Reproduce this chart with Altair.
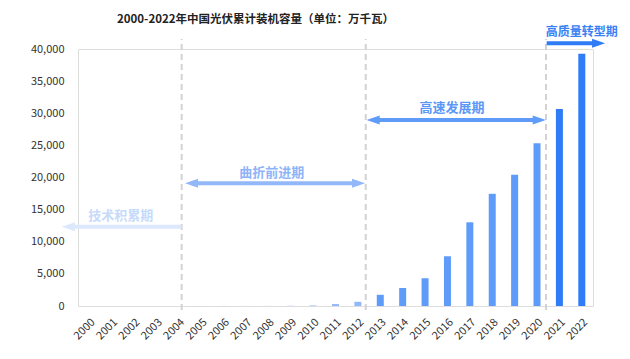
import altair as alt
import pandas as pd

FONT = "Noto Sans CJK SC"

# ---- data -------------------------------------------------------------
years = ["2000", "2001", "2002", "2003", "2004", "2005", "2006", "2007",
         "2008", "2009", "2010", "2011", "2012", "2013", "2014", "2015",
         "2016", "2017", "2018", "2019", "2020", "2021", "2022"]
capacity = [1.9, 2.4, 4.2, 5.5, 6.5, 7, 8, 10, 14, 30, 86, 300, 650,
            1745, 2805, 4318, 7742, 13025, 17463, 20430, 25343, 30656, 39261]
year_stage = (["技术积累期"] * 5 + ["曲折前进期"] * 8 +
              ["高速发展期"] * 8 + ["高质量转型期"] * 2)

stage_names = ["技术积累期", "曲折前进期", "高速发展期", "高质量转型期"]
stage_colors = ["#dce8fc", "#92b8f9", "#5f9bf8", "#2f7cf6"]
stage_text_colors = ["#c6dafb", "#8db4f8", "#5b97f7", "#3a80f5"]
stage_font_sizes = [13, 13, 13, 12]

# stage arrows, in year units on the x axis and capacity units on the y axis
arrow_start = [1998.78, 2004.28, 2012.39, 2020.43]
arrow_end = [2004.13, 2012.32, 2020.39, 2023.04]
arrow_level = [12340, 19100, 28950, 40890]
head_at_start = [True, True, True, False]
head_at_end = [False, True, True, True]
label_x = [2001.41, 2008.15, 2016.2, 2022.0]
label_level = [14010, 20650, 30750, 42600]

# dashed dividers between stages
divider_x = [2004.13, 2012.35, 2020.4]
divider_low, divider_high = -620, 41560

y_ticks = [0, 5000, 10000, 15000, 20000, 25000, 30000, 35000, 40000]

# ---- tables -----------------------------------------------------------
bars = pd.DataFrame({"year": years, "cap": capacity, "stage": year_stage})

inset = 0.27  # shaft stops under the arrowhead
shafts = pd.DataFrame({
    "stage": stage_names,
    "x": [s + inset if h else s for s, h in zip(arrow_start, head_at_start)],
    "x2": [e - inset if h else e for e, h in zip(arrow_end, head_at_end)],
    "y": arrow_level,
})
heads = pd.DataFrame(
    [{"stage": n, "x": s, "y": lv, "dir": "left"}
     for n, s, lv, h in zip(stage_names, arrow_start, arrow_level, head_at_start) if h] +
    [{"stage": n, "x": e, "y": lv, "dir": "right"}
     for n, e, lv, h in zip(stage_names, arrow_end, arrow_level, head_at_end) if h]
)
labels = pd.DataFrame({"stage": stage_names, "x": label_x, "y": label_level,
                       "tc": stage_text_colors, "fs": stage_font_sizes})
dividers = pd.DataFrame({"x": divider_x, "y": [divider_low] * 3,
                         "y2": [divider_high] * 3})

# ---- scales & axes ----------------------------------------------------
yscale = alt.Scale(domain=[0, 40000], nice=False, zero=True)
yaxis = alt.Axis(values=y_ticks, format=",.0f", grid=False, domain=False,
                 ticks=False, tickSize=0, labelPadding=14, labelFontSize=11,
                 labelColor="#333333", labelFont=FONT)
xq = alt.Scale(domain=[1999.5, 2022.5], nice=False, zero=False)
stage_color = alt.Scale(domain=stage_names, range=stage_colors)


def Y(field):
    return alt.Y(field, scale=yscale, title=None, axis=yaxis)


bar_layer = alt.Chart(bars).mark_bar(size=7).encode(
    x=alt.X("year:N", sort=years, title=None,
            scale=alt.Scale(paddingInner=0, paddingOuter=0),
            axis=alt.Axis(labelAngle=-45, labelFontSize=11, labelColor="#333333",
                          labelFont=FONT, ticks=False, domainColor="#dedede",
                          labelPadding=10, grid=False)),
    y=Y("cap:Q"),
    color=alt.Color("stage:N", scale=stage_color, legend=None),
)

divider_layer = alt.Chart(dividers).mark_rule(
    color="#d2d2d2", strokeWidth=2, strokeDash=[6, 4]
).encode(
    x=alt.X("x:Q", scale=xq, axis=None),
    y=Y("y:Q"),
    y2="y2:Q",
)

shaft_layer = alt.Chart(shafts).mark_rule(strokeWidth=4, strokeCap="butt").encode(
    x=alt.X("x:Q", scale=xq, axis=None),
    x2="x2:Q",
    y=Y("y:Q"),
    color=alt.Color("stage:N", scale=stage_color, legend=None),
)

head_left = alt.Chart(heads).transform_filter(alt.datum.dir == "left").mark_point(
    shape="M0,0L2.9,-1L2.9,1Z", filled=True, opacity=1, size=81
).encode(
    x=alt.X("x:Q", scale=xq, axis=None),
    y=Y("y:Q"),
    color=alt.Color("stage:N", scale=stage_color, legend=None),
)
head_right = alt.Chart(heads).transform_filter(alt.datum.dir == "right").mark_point(
    shape="M0,0L-2.9,-1L-2.9,1Z", filled=True, opacity=1, size=81
).encode(
    x=alt.X("x:Q", scale=xq, axis=None),
    y=Y("y:Q"),
    color=alt.Color("stage:N", scale=stage_color, legend=None),
)

label_layer = alt.Chart(labels).mark_text(
    font=FONT, fontWeight="bold", align="center", baseline="middle"
).encode(
    x=alt.X("x:Q", scale=xq, axis=None),
    y=Y("y:Q"),
    text="stage:N",
    color=alt.Color("tc:N", scale=None),
    size=alt.Size("fs:Q", scale=None),
)

chart = alt.layer(
    divider_layer, bar_layer, shaft_layer, head_left, head_right, label_layer
).resolve_scale(x="independent").properties(
    width=515,
    height=257,
    autosize=alt.AutoSizeParams(type="none"),
    padding={"left": 70, "top": 41, "right": 28, "bottom": 44},
    title=alt.Title("2000-2022年中国光伏累计装机容量（单位：万千瓦）",
                    font=FONT, fontSize=11.5, fontWeight="bold", color="#222222",
                    anchor="middle", dx=-80, offset=1),
).configure_view(stroke=None).configure(background="white")

chart.save("out.html", embed_options={"renderer": "svg", "actions": False})
